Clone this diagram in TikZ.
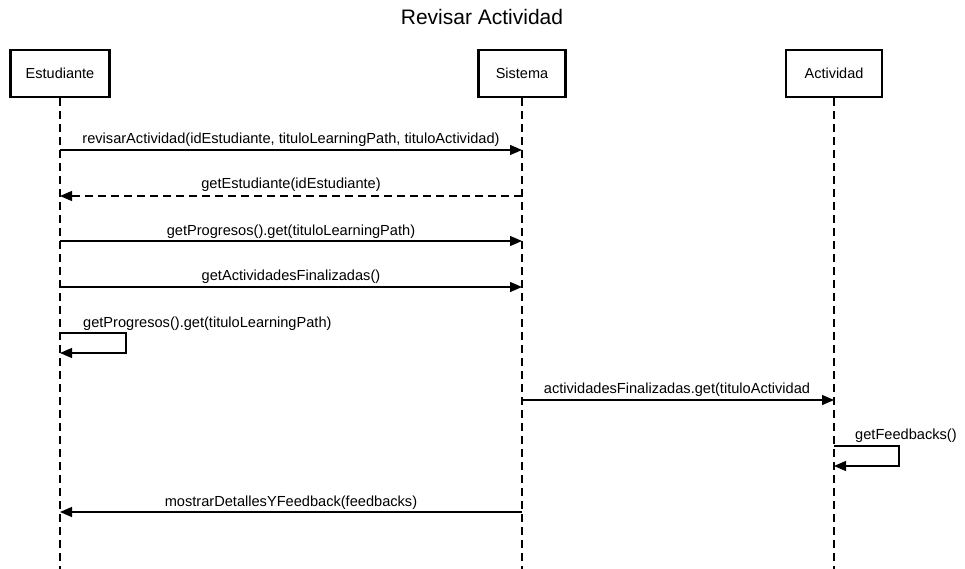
\documentclass[tikz,border=0pt]{standalone}
\usepackage{fontspec}
\setmainfont{Liberation Sans}
\usetikzlibrary{arrows.meta}
\begin{document}
\begin{tikzpicture}[x=1pt,y=-1pt,
  actor/.style={draw=black,line width=2.2pt,fill=white,minimum height=47pt,font=\fontsize{14.5}{17}\selectfont,inner sep=0pt},
  life/.style={draw=black,line width=1.3pt,dash pattern=on 8pt off 5pt},
  msg/.style={draw=black,line width=1.3pt,-{Triangle[length=12pt,width=10pt]}},
  ret/.style={msg,dash pattern=on 8pt off 5pt},
  lbl/.style={font=\fontsize{14.6}{17}\selectfont,inner sep=0pt,anchor=base}]
\useasboundingbox (0,0) rectangle (965,569);
\node[font=\fontsize{21}{25}\selectfont,anchor=base] (title) at (482,25) {Revisar Actividad};
\node[actor,minimum width=99pt] (est) at (60,73.5) {Estudiante};
\node[actor,minimum width=87pt] (sis) at (522,73.5) {Sistema};
\node[actor,minimum width=96pt] (act) at (834,73.5) {Actividad};
\coordinate (estE) at (60,569);
\coordinate (sisE) at (522,569);
\coordinate (actE) at (834,569);
\draw[life] (est.south) -- (estE);
\draw[life] (sis.south) -- (sisE);
\draw[life] (act.south) -- (actE);
% messages
\coordinate (e1) at (60,150); \coordinate (s1) at (522,150);
\draw[msg] (e1) -- (s1);
\node[lbl] (l1) at (291,144) {revisarActividad(idEstudiante, tituloLearningPath, tituloActividad)};
\coordinate (e2) at (60,196); \coordinate (s2) at (522,196);
\draw[ret] (s2) -- (e2);
\node[lbl] (l2) at (291,189) {getEstudiante(idEstudiante)};
\coordinate (e3) at (60,241); \coordinate (s3) at (522,241);
\draw[msg] (e3) -- (s3);
\node[lbl] (l3) at (291,235) {getProgresos().get(tituloLearningPath)};
\coordinate (e4) at (60,287); \coordinate (s4) at (522,287);
\draw[msg] (e4) -- (s4);
\node[lbl] (l4) at (291,280) {getActividadesFinalizadas()};
\coordinate (e5a) at (60,333); \coordinate (e5b) at (60,353);
\draw[msg] (e5a) -- (126,333) -- (126,353) -- (e5b);
\node[lbl,anchor=base west] (l5) at (83,327) {getProgresos().get(tituloLearningPath)};
\coordinate (s6) at (522,400); \coordinate (a6) at (834,400);
\draw[msg] (s6) -- (a6);
\node[lbl] (l6) at (677,393) {actividadesFinalizadas.get(tituloActividad};
\coordinate (a7a) at (834,446); \coordinate (a7b) at (834,466);
\draw[msg] (a7a) -- (899,446) -- (899,466) -- (a7b);
\node[lbl,anchor=base west] (l7) at (855,439) {getFeedbacks()};
\coordinate (s8) at (522,512); \coordinate (e8) at (60,512);
\draw[msg] (s8) -- (e8);
\node[lbl] (l8) at (291,506) {mostrarDetallesYFeedback(feedbacks)};
\end{tikzpicture}
\end{document}
